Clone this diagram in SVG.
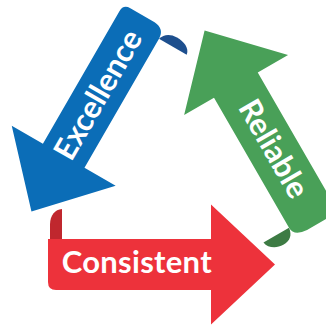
<svg xmlns="http://www.w3.org/2000/svg" width="326" height="325" viewBox="0 0 326 325">
  <style>
    .blue { fill: #0b6db7; }
    .blue-dark { fill: #1d4f8e; }
    .green { fill: #49a058; }
    .green-dark { fill: #3d7b44; }
    .red { fill: #ed323b; }
    .red-dark { fill: #c0272e; }
    .label { fill: #ffffff; font-family: Lato, "Open Sans", "Liberation Sans", sans-serif; font-weight: bold; font-size: 31px; text-anchor: middle; }
  </style>
  <rect x="0" y="0" width="326" height="325" fill="#ffffff"/>

  <g id="excellence" transform="translate(63.7,155.7) rotate(120)">
    <path class="blue" d="M -161,-12 Q -160,-24 -149,-24 L 0,-24 L 0,-60 L 64.5,0 L 0,60 L 0,24 L -153,24 Q -161,24 -161,16 Z"/>
    <path class="blue-dark" d="M -149,-24 L -149,-56 C -156,-55 -159,-47 -159,-39 C -159,-31 -155,-26 -149,-24 Z"/>
    <text class="label" transform="rotate(180)" x="70" y="10" textLength="144">Excellence</text>
  </g>

  <g id="reliable" transform="translate(236.1,85) rotate(240)">
    <path class="green" d="M -161,-11 Q -160,-25.5 -150,-25.5 L 0,-25.5 L 0,-60 L 63,0 L 0,60 L 0,25 L -153,25 Q -161,25 -161,17 Z"/>
    <path class="green-dark" d="M -150,-25.5 L -150,-55 C -157,-54 -162,-47 -162,-39 C -162,-31 -158,-26.5 -150,-25.5 Z"/>
    <text class="label" transform="rotate(180)" x="74" y="10" textLength="108">Reliable</text>
  </g>

  <g id="consistent" transform="translate(211,264.5)">
    <path class="red" d="M -163,-25.5 L 0,-25.5 L 0,-60 L 64,0 L 0,60 L 0,25.5 L -155,25.5 Q -163,25.5 -163,17.5 Z"/>
    <path class="red-dark" d="M -149,-25.5 L -149,-55.5 C -156,-55 -161,-49 -161,-40 L -161,-25.5 Z"/>
    <text class="label" x="-74.3" y="8.8" textLength="150">Consistent</text>
  </g>
</svg>
